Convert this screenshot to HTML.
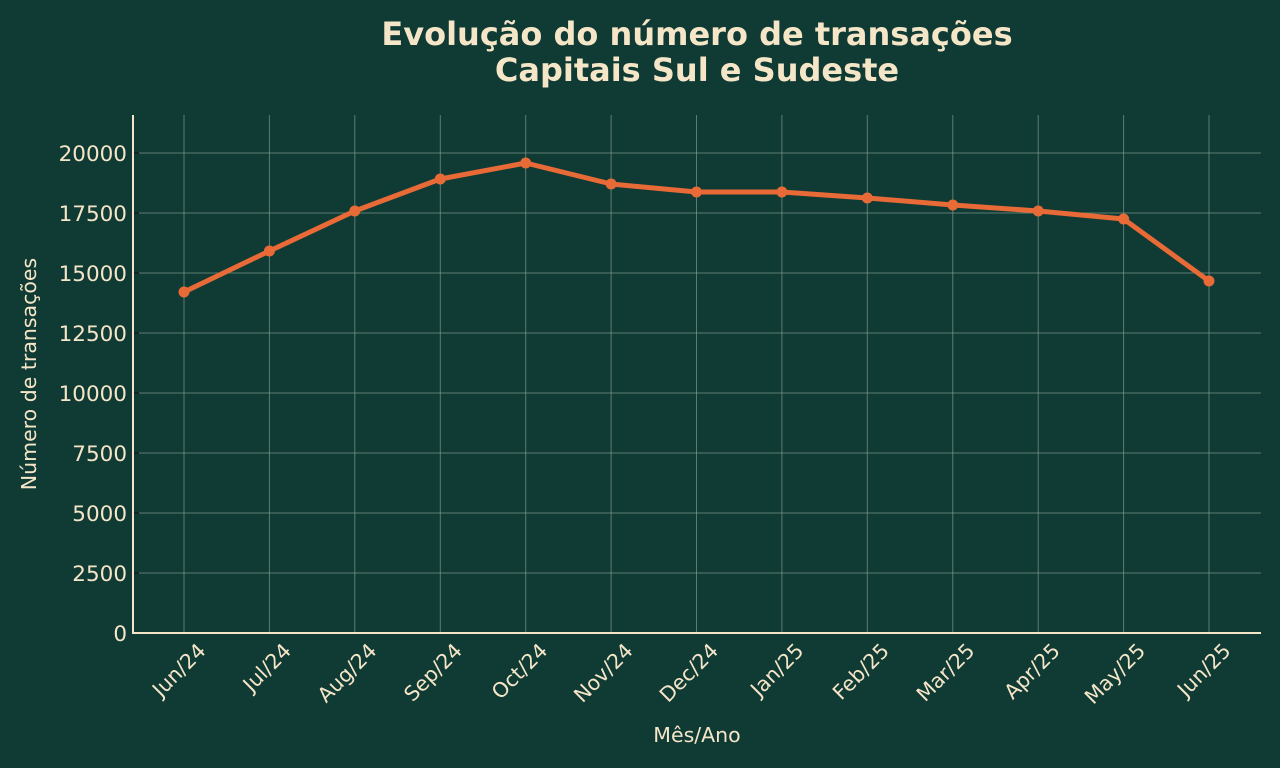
<!DOCTYPE html>
<html><head><style>body{margin:0;background:#103a34;}svg{display:block}</style></head>
<body>
<svg width="1280" height="768" xmlns="http://www.w3.org/2000/svg" font-family="DejaVu Sans, Liberation Sans, sans-serif">
<rect width="1280" height="768" fill="#103a34"/>
<text x="697" y="45" text-anchor="middle" font-size="32" font-weight="bold" fill="#f5e6c8">Evolução do número de transações</text>
<text x="697" y="81" text-anchor="middle" font-size="32" font-weight="bold" fill="#f5e6c8">Capitais Sul e Sudeste</text>
<g stroke="#8fa89d" stroke-opacity="0.6" stroke-width="1">
<line x1="133" x2="1261" y1="573" y2="573"/><line x1="133" x2="1261" y1="513" y2="513"/>
<line x1="133" x2="1261" y1="453" y2="453"/><line x1="133" x2="1261" y1="393" y2="393"/>
<line x1="133" x2="1261" y1="333" y2="333"/><line x1="133" x2="1261" y1="273" y2="273"/>
<line x1="133" x2="1261" y1="213" y2="213"/><line x1="133" x2="1261" y1="153" y2="153"/>
<line x1="184" x2="184" y1="115" y2="633"/><line x1="269.4" x2="269.4" y1="115" y2="633"/>
<line x1="354.8" x2="354.8" y1="115" y2="633"/><line x1="440.3" x2="440.3" y1="115" y2="633"/>
<line x1="525.7" x2="525.7" y1="115" y2="633"/><line x1="611.1" x2="611.1" y1="115" y2="633"/>
<line x1="696.5" x2="696.5" y1="115" y2="633"/><line x1="781.9" x2="781.9" y1="115" y2="633"/>
<line x1="867.3" x2="867.3" y1="115" y2="633"/><line x1="952.8" x2="952.8" y1="115" y2="633"/>
<line x1="1038.2" x2="1038.2" y1="115" y2="633"/><line x1="1123.6" x2="1123.6" y1="115" y2="633"/>
<line x1="1209" x2="1209" y1="115" y2="633"/>
</g>
<g stroke="#1a1a1a" stroke-width="1.5">
<line x1="133" x2="139" y1="573" y2="573"/><line x1="133" x2="139" y1="513" y2="513"/>
<line x1="133" x2="139" y1="453" y2="453"/><line x1="133" x2="139" y1="393" y2="393"/>
<line x1="133" x2="139" y1="333" y2="333"/><line x1="133" x2="139" y1="273" y2="273"/>
<line x1="133" x2="139" y1="213" y2="213"/><line x1="133" x2="139" y1="153" y2="153"/>
</g>
<line x1="133" x2="133" y1="115" y2="634" stroke="#f5e6c8" stroke-width="2"/>
<line x1="132" x2="1261" y1="633" y2="633" stroke="#f5e6c8" stroke-width="2"/>
<g font-size="21.5" fill="#f5e6c8" text-anchor="end">
<text x="127" y="641">0</text><text x="127" y="581">2500</text><text x="127" y="521">5000</text>
<text x="127" y="461">7500</text><text x="127" y="401">10000</text><text x="127" y="341">12500</text>
<text x="127" y="281">15000</text><text x="127" y="221">17500</text><text x="127" y="161">20000</text>
</g>
<g font-size="20.5" fill="#f5e6c8" text-anchor="end">
<text transform="translate(207,652) rotate(-45)">Jun/24</text>
<text transform="translate(292.4,652) rotate(-45)">Jul/24</text>
<text transform="translate(377.8,652) rotate(-45)">Aug/24</text>
<text transform="translate(463.3,652) rotate(-45)">Sep/24</text>
<text transform="translate(548.7,652) rotate(-45)">Oct/24</text>
<text transform="translate(634.1,652) rotate(-45)">Nov/24</text>
<text transform="translate(719.5,652) rotate(-45)">Dec/24</text>
<text transform="translate(804.9,652) rotate(-45)">Jan/25</text>
<text transform="translate(890.3,652) rotate(-45)">Feb/25</text>
<text transform="translate(975.8,652) rotate(-45)">Mar/25</text>
<text transform="translate(1061.2,652) rotate(-45)">Apr/25</text>
<text transform="translate(1146.6,652) rotate(-45)">May/25</text>
<text transform="translate(1232,652) rotate(-45)">Jun/25</text>
</g>
<text x="697" y="742" text-anchor="middle" font-size="20.5" fill="#f5e6c8">Mês/Ano</text>
<text transform="translate(36,374) rotate(-90)" text-anchor="middle" font-size="20.5" fill="#f5e6c8">Número de transações</text>
<polyline fill="none" stroke="#e76a37" stroke-width="5" stroke-linejoin="round" points="184,292 269.4,251 354.8,211 440.3,179 525.7,163 611.1,184 696.5,192 781.9,192 867.3,198 952.8,205 1038.2,211 1123.6,219 1209,281"/>
<g fill="#e76a37">
<circle cx="184" cy="292" r="5.5"/><circle cx="269.4" cy="251" r="5.5"/><circle cx="354.8" cy="211" r="5.5"/>
<circle cx="440.3" cy="179" r="5.5"/><circle cx="525.7" cy="163" r="5.5"/><circle cx="611.1" cy="184" r="5.5"/>
<circle cx="696.5" cy="192" r="5.5"/><circle cx="781.9" cy="192" r="5.5"/><circle cx="867.3" cy="198" r="5.5"/>
<circle cx="952.8" cy="205" r="5.5"/><circle cx="1038.2" cy="211" r="5.5"/><circle cx="1123.6" cy="219" r="5.5"/>
<circle cx="1209" cy="281" r="5.5"/>
</g>
</svg>
</body></html>
